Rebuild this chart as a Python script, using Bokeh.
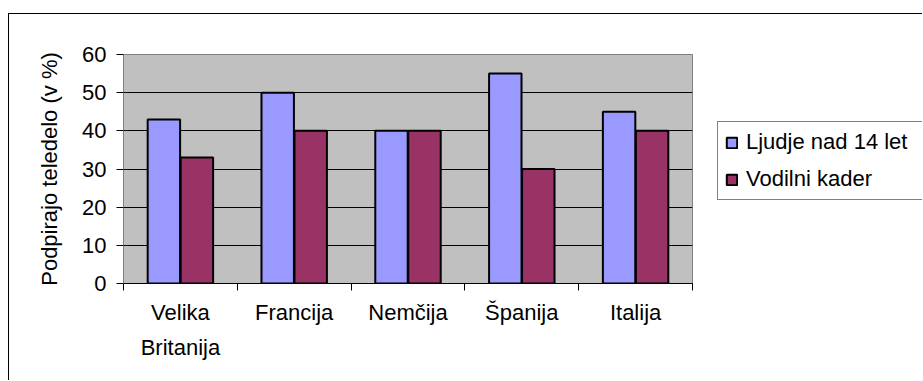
from bokeh.plotting import figure
from bokeh.layouts import row
from bokeh.models import Range1d, FixedTicker, ColumnDataSource, Legend, LegendItem
from bokeh.transform import dodge
from bokeh.embed import file_html
from bokeh.resources import INLINE

categories = ["Velika\nBritanija", "Francija", "Nemčija", "Španija", "Italija"]
ljudje = [43, 50, 40, 55, 45]
vodilni = [33, 40, 40, 30, 40]
series_names = ["Ljudje nad 14 let", "Vodilni kader"]
series_colors = ["#9999FF", "#993366"]
y_ticks = [0, 10, 20, 30, 40, 50, 60]

FONT = "Liberation Sans"
FS = "22px"

xs = [i + 0.5 for i in range(len(categories))]
src = ColumnDataSource(dict(x=xs, a=ljudje, b=vodilni))

p = figure(width=708, height=366, output_backend="svg", toolbar_location=None,
           x_range=Range1d(0, len(categories)), y_range=Range1d(0, 60),
           min_border_left=114, min_border_top=40, min_border_right=25,
           min_border_bottom=97)

p.background_fill_color = "#C0C0C0"
p.border_fill_color = "white"
p.outline_line_color = "#808080"
p.outline_line_width = 1

p.vbar(x=dodge("x", -0.145, range=p.x_range), top="a", width=0.285, source=src,
       fill_color=series_colors[0], line_color="black", line_width=2)
p.vbar(x=dodge("x", 0.145, range=p.x_range), top="b", width=0.285, source=src,
       fill_color=series_colors[1], line_color="black", line_width=2)

# grid
p.xgrid.visible = False
p.ygrid.grid_line_color = "black"
p.ygrid.grid_line_width = 1
p.ygrid.ticker = FixedTicker(ticks=y_ticks[1:-1])

# y axis
p.yaxis.ticker = FixedTicker(ticks=y_ticks)
p.yaxis.axis_label = "Podpirajo teledelo (v %)"
p.yaxis.axis_label_text_font = FONT
p.yaxis.axis_label_text_font_size = FS
p.yaxis.axis_label_text_font_style = "normal"
p.yaxis.axis_label_text_color = "black"
p.yaxis.axis_label_standoff = 17
p.yaxis.major_label_text_font = FONT
p.yaxis.major_label_text_font_size = FS
p.yaxis.major_label_text_color = "black"
p.yaxis.major_label_standoff = 10
p.yaxis.major_tick_out = 7
p.yaxis.major_tick_in = 0
p.yaxis.major_tick_line_color = "black"
p.yaxis.minor_tick_line_color = None
p.yaxis.axis_line_color = "#808080"

# x axis: labels at category centres, ticks at category boundaries
p.xaxis.ticker = FixedTicker(ticks=xs, minor_ticks=list(range(len(categories) + 1)))
p.xaxis.major_label_overrides = {x: c for x, c in zip(xs, categories)}
p.xaxis.major_tick_out = 0
p.xaxis.major_tick_in = 0
p.xaxis.minor_tick_out = 7
p.xaxis.minor_tick_in = 0
p.xaxis.minor_tick_line_color = "black"
p.xaxis.axis_line_color = "black"
p.xaxis.major_label_text_font = FONT
p.xaxis.major_label_text_font_size = FS
p.xaxis.major_label_text_color = "black"
p.xaxis.major_label_standoff = 9
p.xaxis.major_label_text_line_height = 1.42

# legend panel (separate figure to the right of the chart); its renderers are
# hidden, only their legend swatches are drawn
lg = figure(width=205, height=366, output_backend="svg", toolbar_location=None,
            min_border_left=0, min_border_right=0, min_border_bottom=97,
            min_border_top=40,
            x_range=Range1d(0, len(categories)), y_range=Range1d(0, 60))
lg.axis.visible = False
lg.grid.visible = False
lg.outline_line_color = None
lg.background_fill_color = "white"
items = []
for name, col, field in zip(series_names, series_colors, ["a", "b"]):
    r = lg.vbar(x="x", top=field, width=0.285, source=src,
                fill_color=col, line_color="black", line_width=2)
    r.visible = False
    items.append(LegendItem(label=name, renderers=[r]))

legend = Legend(items=items, location=(0, 83), orientation="vertical",
                label_text_font=FONT, label_text_font_size=FS,
                label_text_color="black", label_width=200,
                glyph_width=13, glyph_height=13, label_standoff=8,
                padding=7, spacing=11, margin=0,
                border_line_color="black", border_line_width=1,
                background_fill_color="white", background_fill_alpha=1)
lg.add_layout(legend, "center")

layout = row(p, lg, margin=(13, 0, 0, 8), spacing=0,
             styles={"border-left": "1px solid black", "border-top": "1px solid black"})

open("out.html", "w").write(file_html(layout, INLINE))
